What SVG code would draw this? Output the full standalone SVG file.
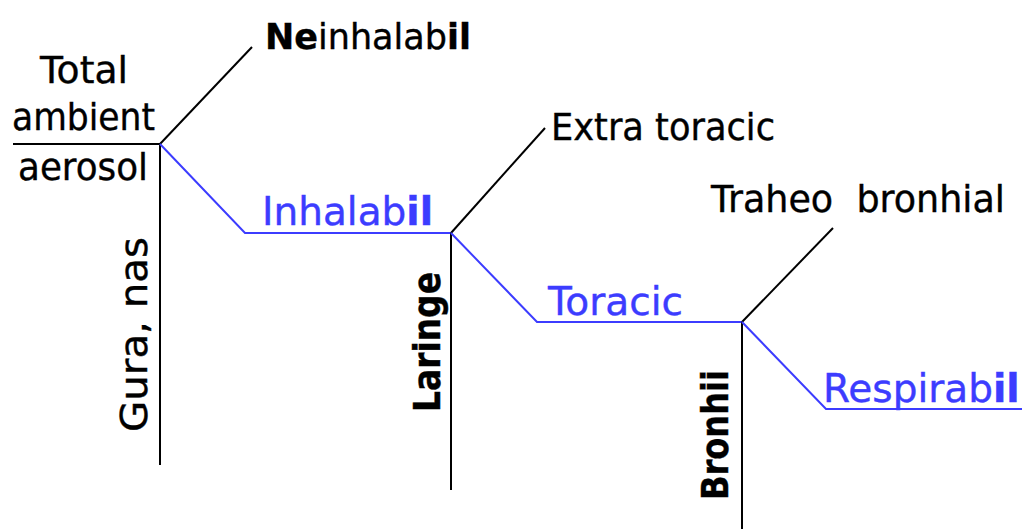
<svg xmlns="http://www.w3.org/2000/svg" width="1022" height="529" viewBox="0 0 1022 529">
<style>
text{font-family:"DejaVu Sans","Liberation Sans",sans-serif;font-size:38px;fill:#000;stroke:#000;stroke-width:0.4}
.blue{fill:#3c3cff;stroke:#3c3cff;font-size:39px}
.b{font-weight:bold}
.k{stroke:#000;stroke-width:2;fill:none}
.bl{stroke:#3c3cff;stroke-width:2;fill:none}
</style>
<rect width="1022" height="529" fill="#fff"/>
<g id="connectors">
<line class="k" x1="13" y1="144" x2="160" y2="144"/>
<line class="k" x1="160" y1="144" x2="160" y2="465"/>
<line class="k" x1="160" y1="144" x2="252" y2="47"/>
<polyline class="bl" points="160,144 245,233 451,233"/>
<line class="k" x1="451" y1="233" x2="451" y2="490"/>
<line class="k" x1="451" y1="233" x2="545" y2="128"/>
<polyline class="bl" points="451,233 537,322 742,322"/>
<line class="k" x1="742" y1="322" x2="742" y2="529"/>
<line class="k" x1="742" y1="322" x2="833" y2="228"/>
<polyline class="bl" points="742,322 826,409 1022,409"/>
</g>
<g id="total">
<text x="40" y="83" textLength="88" lengthAdjust="spacingAndGlyphs">Total</text>
<text x="12" y="130" textLength="143" lengthAdjust="spacingAndGlyphs">ambient</text>
<text x="18" y="180" textLength="130" lengthAdjust="spacingAndGlyphs">aerosol</text>
</g>
<g id="neinhalabil">
<text x="265" y="49" style="font-size:35px"><tspan class="b">Ne</tspan>inhalab<tspan class="b">il</tspan></text>
</g>
<g id="inhalabil">
<text class="blue" x="262" y="225">Inhalab<tspan class="b">il</tspan></text>
</g>
<g id="gura">
<text x="147" y="432" transform="rotate(-90 147 432)" textLength="195" lengthAdjust="spacingAndGlyphs">Gura, nas</text>
</g>
<g id="extratoracic">
<text x="551" y="140" textLength="224" lengthAdjust="spacingAndGlyphs">Extra toracic</text>
</g>
<g id="toracic">
<text class="blue" x="548" y="315" textLength="135" lengthAdjust="spacingAndGlyphs">Toracic</text>
</g>
<g id="laringe">
<text class="b" x="440" y="412" transform="rotate(-90 440 412)" textLength="140" lengthAdjust="spacingAndGlyphs">Laringe</text>
</g>
<g id="traheo">
<text x="711" y="212" xml:space="preserve" textLength="294" lengthAdjust="spacingAndGlyphs">Traheo  bronhial</text>
</g>
<g id="respirabil">
<text class="blue" x="823" y="402">Respirab<tspan class="b">il</tspan></text>
</g>
<g id="bronhii">
<text class="b" x="728" y="500" transform="rotate(-90 728 500)" textLength="130" lengthAdjust="spacingAndGlyphs">Bronhii</text>
</g>
</svg>
